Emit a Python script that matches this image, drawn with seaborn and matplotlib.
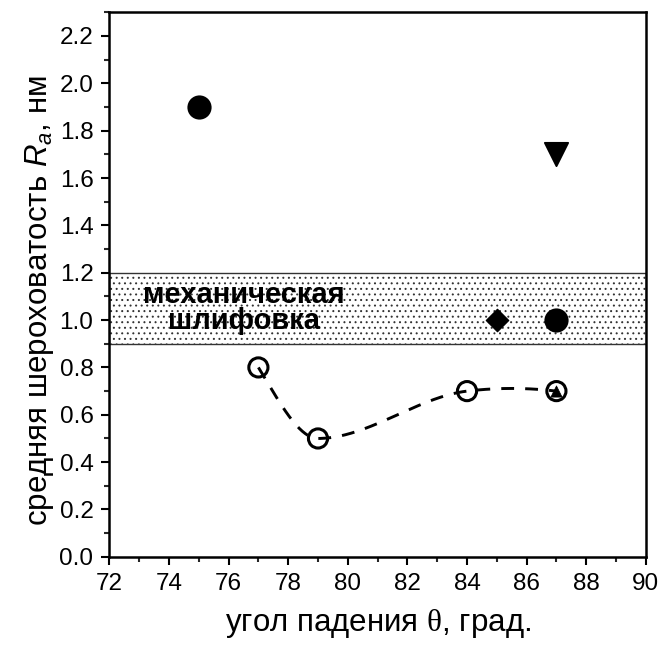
import numpy as np
import pandas as pd
import matplotlib
matplotlib.use("Agg")
import matplotlib.pyplot as plt
import seaborn as sns
from matplotlib.ticker import MultipleLocator, FormatStrFormatter

sns.set_style("ticks")
plt.rcParams['font.family'] = ['Liberation Sans', 'DejaVu Sans']
plt.rcParams['text.color'] = 'black'
plt.rcParams['axes.labelcolor'] = 'black'
plt.rcParams['mathtext.fontset'] = 'custom'
plt.rcParams['mathtext.it'] = 'Liberation Sans:italic'
plt.rcParams['mathtext.rm'] = 'Liberation Serif'
plt.rcParams['hatch.linewidth'] = 0.7

# measured roughness series
open_x = [77, 79, 84, 87]
open_y = [0.8, 0.5, 0.7, 0.7]
circle_x = [75, 87]
circle_y = [1.9, 1.0]
tri_down_x = [87]
tri_down_y = [1.7]
diamond_x = [85]
diamond_y = [1.0]
tri_up_x = [87]
tri_up_y = [0.7]
band_low, band_high = 0.9, 1.2
band_label = "механическая\nшлифовка"


def smooth_curve(x, y, n=300):
    """Cubic Hermite curve through the points; flat at local extrema."""
    x = np.asarray(x, float)
    y = np.asarray(y, float)
    h = np.diff(x)
    delta = np.diff(y) / h
    k = len(x)
    d = np.zeros(k)
    for i in range(1, k - 1):
        if delta[i - 1] * delta[i] > 0 or (delta[i - 1] > 0 and delta[i] == 0):
            d[i] = (h[i] * delta[i - 1] + h[i - 1] * delta[i]) / (h[i - 1] + h[i])
    d[0] = ((2 * h[0] + h[1]) * delta[0] - h[0] * delta[1]) / (h[0] + h[1])
    d[-1] = ((2 * h[-1] + h[-2]) * delta[-1] - h[-1] * delta[-2]) / (h[-1] + h[-2])
    xs = np.linspace(x[0], x[-1], n)
    ys = np.empty_like(xs)
    for j, xv in enumerate(xs):
        i = min(np.searchsorted(x, xv, side="right") - 1, k - 2)
        t = (xv - x[i]) / h[i]
        h00 = 2 * t**3 - 3 * t**2 + 1
        h10 = t**3 - 2 * t**2 + t
        h01 = -2 * t**3 + 3 * t**2
        h11 = t**3 - t**2
        ys[j] = h00 * y[i] + h10 * h[i] * d[i] + h01 * y[i + 1] + h11 * h[i] * d[i + 1]
    return xs, ys


fig, ax = plt.subplots(figsize=(6.59, 6.46), dpi=100)
fig.subplots_adjust(left=0.166, right=0.980, top=0.981, bottom=0.138)

ax.axhspan(band_low, band_high, facecolor="white", edgecolor="#333333",
           hatch="...", linewidth=1.0, zorder=0)
ax.text(76.5, (band_low + band_high) / 2, band_label, ha="center",
        va="center", fontsize=21, fontweight="bold", linespacing=0.92,
        color="black", zorder=2)

sx, sy = smooth_curve(open_x, open_y)
sns.lineplot(x=sx, y=sy, ax=ax, color="black", lw=2.1, dashes=(4.4, 3.8),
             zorder=1, sort=False)

sns.scatterplot(x=open_x, y=open_y, ax=ax, marker="o", s=190,
                facecolor="none", edgecolor="black", linewidth=2.2, zorder=3)
sns.scatterplot(x=circle_x, y=circle_y, ax=ax, marker="o", s=260,
                color="black", edgecolor="black", zorder=3)
sns.scatterplot(x=tri_down_x, y=tri_down_y, ax=ax, marker="v", s=280,
                color="black", edgecolor="black", zorder=3)
sns.scatterplot(x=diamond_x, y=diamond_y, ax=ax, marker="D", s=130,
                color="black", edgecolor="black", zorder=3)
sns.scatterplot(x=tri_up_x, y=tri_up_y, ax=ax, marker="^", s=65,
                color="black", edgecolor="black", linewidth=0.5, zorder=4)

ax.set_xlim(72, 90)
ax.set_ylim(0, 2.3)
ax.xaxis.set_major_locator(MultipleLocator(2))
ax.xaxis.set_minor_locator(MultipleLocator(1))
ax.yaxis.set_major_locator(MultipleLocator(0.2))
ax.yaxis.set_minor_locator(MultipleLocator(0.1))
ax.yaxis.set_major_formatter(FormatStrFormatter("%.1f"))
ax.tick_params(which="major", direction="out", length=6, width=1.5,
               labelsize=17.5, colors="black", pad=5.5)
ax.tick_params(which="minor", direction="out", length=3.3, width=1.5)
for s in ax.spines.values():
    s.set_linewidth(1.8)
    s.set_color("black")

ax.set_xlabel(r"угол падения $\mathrm{\theta}$, град.", fontsize=22.5)
ax.set_ylabel("средняя шероховатость $R_a$, нм", fontsize=22.5)
ax.xaxis.set_label_coords(0.5, -0.092)
ax.yaxis.set_label_coords(-0.10, 0.47)

fig.savefig("out.png", dpi=100)
